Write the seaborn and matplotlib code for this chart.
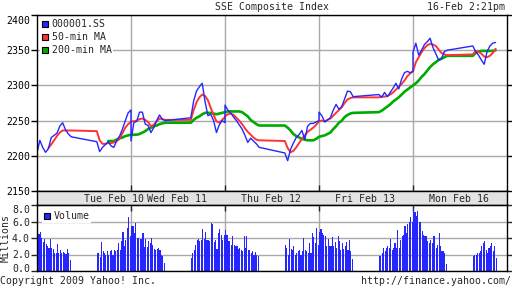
import numpy as np
import pandas as pd
import matplotlib
matplotlib.use("Agg")
import matplotlib.pyplot as plt
import matplotlib.transforms as mtrans
import seaborn as sns
from matplotlib.lines import Line2D

# ---------------- data ----------------
days = ["Tue Feb 10", "Wed Feb 11", "Thu Feb 12", "Fri Feb 13", "Mon Feb 16"]
day_minutes = 330                      # 9:30-11:30, lunch, 13:00-15:00
am_minutes = list(range(0, 121, 10))    # minutes after 9:30
pm_minutes = list(range(210, 331, 10))  # 13:00 .. 15:00
last_pm_minutes = list(range(210, 291, 10))  # 13:00 .. 14:20

price_am = [
    [2204, 2222, 2212, 2205, 2210, 2226, 2229, 2232, 2242, 2247, 2237, 2231, 2227],
    [2221, 2247, 2249, 2262, 2262, 2245, 2243, 2233, 2240, 2250, 2258, 2252, 2250],
    [2272, 2265, 2261, 2255, 2250, 2244, 2238, 2229, 2219, 2225, 2221, 2217, 2212],
    [2262, 2257, 2248, 2251, 2254, 2265, 2273, 2266, 2270, 2281, 2292, 2291, 2284],
    [2347, 2360, 2343, 2350, 2358, 2362, 2367, 2354, 2345, 2336, 2338, 2348, 2350],
]
price_pm = [
    [2220, 2206, 2212, 2216, 2220, 2214, 2212, 2222, 2228, 2238, 2250, 2261, 2265],
    [2254, 2278, 2292, 2298, 2303, 2277, 2257, 2259, 2250, 2233, 2244, 2250, 2247],
    [2204, 2193, 2209, 2218, 2226, 2230, 2236, 2223, 2242, 2246, 2246, 2248, 2250],
    [2287, 2283, 2290, 2284, 2290, 2296, 2303, 2295, 2309, 2318, 2320, 2318, 2320],
    [2356, 2348, 2343, 2336, 2330, 2348, 2356, 2360, 2361],
]
nan = float("nan")
ma50_am = [
    [nan, nan, nan, nan, 2211, 2216, 2222, 2228, 2233, 2236, 2236, 2236, 2236],
    [2249, 2249, 2250, 2252, 2253, 2251, 2248, 2242, 2244, 2249, 2253, 2252, 2251],
    [2256, 2259, 2260, 2258, 2254, 2250, 2245, 2239, 2234, 2230, 2226, 2223, 2222],
    [2249, 2250, 2249, 2251, 2253, 2257, 2261, 2265, 2269, 2275, 2280, 2282, 2283],
    [2320, 2333, 2340, 2347, 2353, 2357, 2359, 2358, 2356, 2351, 2346, 2344, 2343],
]
ma50_pm = [
    [2235, 2222, 2217, 2217, 2218, 2218, 2219, 2221, 2224, 2232, 2240, 2245, 2248],
    [2251, 2265, 2276, 2283, 2287, 2285, 2279, 2268, 2258, 2249, 2247, 2251, 2255],
    [2221, 2211, 2205, 2207, 2212, 2218, 2224, 2229, 2234, 2237, 2240, 2244, 2249],
    [2283, 2284, 2284, 2285, 2287, 2290, 2294, 2298, 2302, 2307, 2313, 2317, 2320],
    [2344, 2349, 2348, 2345, 2341, 2340, 2342, 2346, 2352],
]
ma200_am = [
    [nan] * 13,
    [2230, 2230, 2230, 2231, 2233, 2235, 2238, 2240, 2242, 2243, 2245, 2246, 2247],
    [2262, 2263, 2263, 2263, 2263, 2263, 2262, 2259, 2256, 2251, 2248, 2245, 2243],
    [2227, 2228, 2229, 2231, 2233, 2238, 2242, 2247, 2250, 2255, 2258, 2260, 2261],
    [2300, 2303, 2307, 2312, 2316, 2321, 2326, 2330, 2333, 2336, 2338, 2340, 2342],
]
ma200_pm = [
    [nan, nan, nan, nan, 2221, 2221, 2221, 2223, 2225, 2226, 2228, 2229, 2230],
    [2247, 2251, 2254, 2256, 2259, 2261, 2261, 2261, 2260, 2259, 2260, 2261, 2262],
    [2243, 2240, 2236, 2231, 2228, 2226, 2224, 2223, 2222, 2222, 2222, 2224, 2227],
    [2262, 2264, 2267, 2270, 2273, 2277, 2280, 2283, 2287, 2291, 2294, 2297, 2300],
    [2342, 2346, 2348, 2349, 2349, 2349, 2349, 2349, 2350],
]
# 5-minute volume bars, millions
vol_am = [
    [4.6, 4.5, 4.7, 4.0, 3.5, 3.9, 3.3, 3.0, 2.8, 3.9, 2.8, 2.7, 2.2, 2.2, 3.3, 2.2, 2.6, 2.2, 2.3, 2.2, 2.1, 2.7, 2.2, 1.3],
    [5.4, 5.4, 4.6, 5.8, 4.0, 4.0, 3.9, 3.9, 4.6, 2.9, 3.9, 2.9, 3.6, 3.4, 4.0, 3.2, 2.7, 2.6, 2.7, 2.8, 2.6, 2.0, 1.8, 1.0],
    [5.0, 4.4, 3.6, 3.6, 3.2, 4.3, 3.2, 3.0, 3.0, 2.7, 2.8, 2.6, 2.4, 4.3, 2.8, 4.3, 2.6, 2.6, 2.2, 2.4, 2.0, 2.3, 2.0, 1.8],
    [4.7, 5.1, 4.6, 4.4, 4.2, 3.0, 3.9, 3.0, 3.0, 4.1, 3.0, 3.5, 2.8, 4.2, 3.6, 2.6, 3.4, 2.7, 3.0, 3.5, 2.6, 3.7, 2.4, 1.4],
    [7.6, 7.1, 6.7, 7.3, 5.9, 5.9, 4.8, 4.4, 4.2, 4.2, 3.6, 3.4, 3.8, 3.4, 4.2, 4.2, 2.8, 3.2, 4.6, 3.0, 2.4, 2.4, 2.2, 0.9],
]
vol_pm = [
    [2.2, 2.2, 1.7, 3.5, 2.4, 2.2, 2.0, 2.4, 2.0, 2.4, 2.6, 2.0, 2.6, 2.4, 2.6, 3.4, 2.6, 3.6, 4.7, 3.0, 3.8, 5.2, 6.5, 4.2],
    [1.6, 2.2, 2.6, 3.2, 3.8, 3.9, 3.6, 3.8, 5.1, 3.9, 4.7, 3.8, 3.8, 3.6, 5.8, 5.7, 3.5, 3.8, 2.7, 4.6, 5.1, 4.4, 3.8, 4.4],
    [3.1, 2.8, 2.0, 3.9, 2.7, 2.5, 3.0, 2.0, 2.2, 2.4, 2.6, 2.0, 2.4, 4.0, 2.6, 2.4, 2.2, 3.4, 2.2, 4.6, 4.1, 3.4, 5.2, 3.1],
    [1.8, 1.8, 2.2, 2.8, 2.4, 2.8, 3.0, 2.8, 3.9, 2.6, 2.8, 3.4, 2.8, 5.0, 2.8, 3.8, 4.2, 4.4, 5.5, 4.6, 5.7, 5.9, 6.6, 5.9],
    [1.8, 2.0, 2.0, 2.2, 2.2, 2.4, 3.0, 3.4, 3.6, 2.6, 2.2, 2.8, 3.0, 3.4, 2.4, 3.0, 1.6],
]
yticks_main = [2150, 2200, 2250, 2300, 2350, 2400]
yticks_vol = [0.0, 2.0, 4.0, 6.0, 8.0]
legend_labels = ["000001.SS", "50-min MA", "200-min MA"]

# ---------------- assemble ----------------
def series_frame(am, pm):
    xs, ys = [], []
    for d in range(len(days)):
        pm_t = pm_minutes if d < len(days) - 1 else last_pm_minutes
        for t, v in zip(am_minutes, am[d]):
            xs.append(d * day_minutes + t); ys.append(v)
        for t, v in zip(pm_t, pm[d]):
            xs.append(d * day_minutes + t); ys.append(v)
    return pd.DataFrame({"x": xs, "y": ys}).dropna()

df_price = series_frame(price_am, price_pm)
df_ma50 = series_frame(ma50_am, ma50_pm)
df_ma200 = series_frame(ma200_am, ma200_pm)

vx, vv = [], []
for d in range(len(days)):
    for i, v in enumerate(vol_am[d]):
        vx.append(d * day_minutes + 5 * i); vv.append(v)
    for i, v in enumerate(vol_pm[d]):
        vx.append(d * day_minutes + 210 + 5 * i); vv.append(v)

# ---------------- style ----------------
sns.set_style("white")
plt.rcParams["font.family"] = ["DejaVu Sans Mono", "DejaVu Sans"]
FS = 7.1
BLUE, RED, GREEN = "#2626ff", "#ff3333", "#00aa00"
GRID = "#a9a9a9"

fig = plt.figure(figsize=(5.12, 2.88), dpi=100)
W, H = 512, 288
L, R = 37, 507
ax = fig.add_axes([L / W, 1 - 191 / H, (R - L) / W, 176 / H])
axb = fig.add_axes([L / W, 1 - 205 / H, (R - L) / W, 14 / H])
axv = fig.add_axes([L / W, 1 - 271 / H, (R - L) / W, 66 / H])

total = day_minutes * len(days)
bounds = [day_minutes * k for k in range(1, len(days))]

def shift(label, dy_px):
    label.set_transform(label.get_transform() +
                        mtrans.ScaledTranslation(0, dy_px / 100, fig.dpi_scale_trans))

# main price chart
sns.lineplot(data=df_ma200, x="x", y="y", ax=ax, color=GREEN, linewidth=1.9,
             estimator=None, sort=False)
sns.lineplot(data=df_ma50, x="x", y="y", ax=ax, color=RED, linewidth=1.4,
             estimator=None, sort=False)
sns.lineplot(data=df_price, x="x", y="y", ax=ax, color=BLUE, linewidth=1.0,
             estimator=None, sort=False)
ax.set_xlim(0, total)
ax.set_ylim(yticks_main[0], yticks_main[-1])
ax.set_yticks(yticks_main)
ax.set_xticks(bounds)
ax.set_xlabel(""); ax.set_ylabel("")
ax.grid(True, color=GRID, linewidth=1.0)
ax.set_axisbelow(True)
ax.tick_params(axis="y", direction="out", length=4, width=1, left=True, right=True,
               labelleft=True, labelright=False, labelsize=FS, pad=1, colors="black")
ax.tick_params(axis="x", direction="in", length=4, width=1, bottom=True, top=False,
               labelbottom=False)
ax.get_yticklabels()[-1].set_va("top")
shift(ax.get_yticklabels()[-1], -1)

handles = [Line2D([], [], marker="s", ls="none", markersize=4.6,
                  markerfacecolor=c, markeredgecolor="black", markeredgewidth=0.8)
           for c in (BLUE, RED, GREEN)]
leg = ax.legend(handles, legend_labels, loc="upper left", bbox_to_anchor=(0.0, 1.0),
                frameon=True, fancybox=False, edgecolor="none", facecolor="white",
                framealpha=1, borderpad=0.15, borderaxespad=0.3, handlelength=0.7,
                handletextpad=0.35, labelspacing=0.28, fontsize=FS)

# date band
axb.set_facecolor("#e3e3e3")
axb.set_xlim(0, total); axb.set_ylim(0, 1)
axb.set_xticks([]); axb.set_yticks([])
label_pos = [272, 493, 823, 1151, 1481]
for name, p in zip(days, label_pos):
    axb.text(p, 0.45, name, ha="center", va="center", fontsize=FS)

# volume
axv.bar(vx, vv, width=3.9, align="edge", color=BLUE, linewidth=0, antialiased=False)
axv.set_xlim(0, total)
axv.set_ylim(yticks_vol[0], yticks_vol[-1])
axv.set_yticks(yticks_vol)
axv.set_yticklabels([f"{v:.1f}" for v in yticks_vol])
axv.set_xticks(bounds)
axv.grid(True, color=GRID, linewidth=1.0)
axv.set_axisbelow(True)
axv.tick_params(axis="y", direction="out", length=4, width=1, left=True, right=True,
                labelleft=True, labelright=False, labelsize=FS, pad=1)
axv.tick_params(axis="x", direction="in", length=4, width=1, bottom=True, top=True,
                labelbottom=False)
axv.get_yticklabels()[-1].set_va("top")
shift(axv.get_yticklabels()[0], 2.5)
axv.set_ylabel("Millions", fontsize=FS, labelpad=1)
vh = [Line2D([], [], marker="s", ls="none", markersize=4.6, markerfacecolor=BLUE,
             markeredgecolor="black", markeredgewidth=0.8)]
axv.legend(vh, ["Volume"], loc="upper left", bbox_to_anchor=(0.0, 1.0), frameon=True,
           fancybox=False, edgecolor="none", facecolor="white", framealpha=1,
           borderpad=0.15, borderaxespad=0.5, handlelength=0.7, handletextpad=0.35,
           fontsize=FS)

for a in (ax, axb, axv):
    for s in a.spines.values():
        s.set_color("black"); s.set_linewidth(1.0); s.set_visible(True)

# header / footer
fig.text(272 / W, 1 - 7 / H, "SSE Composite Index", ha="center", va="center", fontsize=FS)
fig.text(505 / W, 1 - 7 / H, "16-Feb 2:21pm", ha="right", va="center", fontsize=FS)
fig.text(0 / W, 1 - 281 / H, "Copyright 2009 Yahoo! Inc.", ha="left", va="center", fontsize=FS)
fig.text(511 / W, 1 - 281 / H, "http://finance.yahoo.com/", ha="right", va="center", fontsize=FS)

fig.savefig("out.png", dpi=100, facecolor="white")
